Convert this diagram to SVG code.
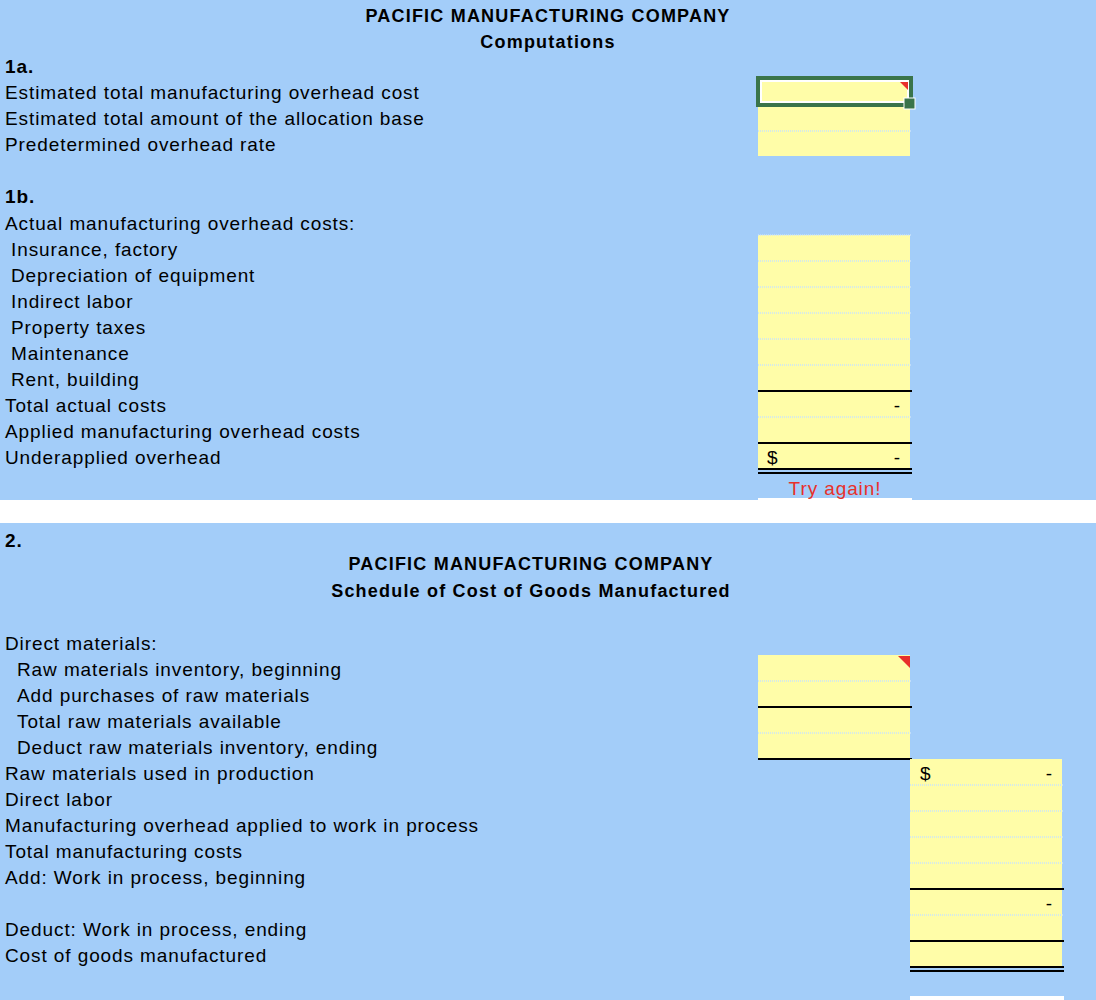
<svg xmlns="http://www.w3.org/2000/svg" width="1096" height="1000" viewBox="0 0 1096 1000">
<style>
.t{font-family:"Liberation Sans",Arial,sans-serif;font-size:19px;letter-spacing:0.9px;fill:#000}
.b{font-family:"Liberation Sans",Arial,sans-serif;font-size:18px;letter-spacing:1.2px;font-weight:bold;fill:#000;text-anchor:middle}
.c{fill:#fffda8}
.d{stroke:#c9e2fb;stroke-width:1.5;stroke-dasharray:1 1}
.k{stroke:#000;stroke-width:2}
.r{fill:#e8302a}
</style>
<rect width="1096" height="1000" fill="#a3cdf9"/>
<rect x="0" y="500" width="1096" height="23" fill="#fff"/>
<rect x="758" y="498" width="154" height="3" fill="#fff"/>
<rect x="910" y="996" width="154" height="4" fill="#fff"/>
<g id="title1">
<text class="b" x="548" y="22">PACIFIC MANUFACTURING COMPANY</text>
<text class="b" x="548" y="48">Computations</text>
</g>
<g id="s1a" class="t">
<text x="5" y="73" font-weight="bold">1a.</text>
<text x="5" y="99">Estimated total manufacturing overhead cost</text>
<text x="5" y="125">Estimated total amount of the allocation base</text>
<text x="5" y="151">Predetermined overhead rate</text>
</g>
<g id="cells1a">
<rect class="c" x="758" y="78" width="152" height="78"/>
<line class="d" x1="758" y1="131" x2="912" y2="131"/>
<rect x="758" y="78" width="153" height="27" fill="none" stroke="#3a744a" stroke-width="4"/>
<rect x="761" y="81" width="147" height="21" fill="none" stroke="#fff" stroke-width="2"/>
<polygon class="r" points="900,82 908,82 908,90"/>
<rect x="904" y="98" width="11" height="11" fill="#3a744a" stroke="#fff" stroke-width="1"/>
</g>
<g id="s1b" class="t">
<text x="5" y="203" font-weight="bold">1b.</text>
<text x="5" y="230">Actual manufacturing overhead costs:</text>
<text x="11" y="256">Insurance, factory</text>
<text x="11" y="282">Depreciation of equipment</text>
<text x="11" y="308">Indirect labor</text>
<text x="11" y="334">Property taxes</text>
<text x="11" y="360">Maintenance</text>
<text x="11" y="386">Rent, building</text>
<text x="5" y="412">Total actual costs</text>
<text x="5" y="438">Applied manufacturing overhead costs</text>
<text x="5" y="464">Underapplied overhead</text>
</g>
<g id="cells1b">
<rect class="c" x="758" y="235" width="152" height="234"/>
<line class="d" x1="758" y1="235" x2="912" y2="235"/>
<line class="d" x1="758" y1="261" x2="912" y2="261"/>
<line class="d" x1="758" y1="287" x2="912" y2="287"/>
<line class="d" x1="758" y1="313" x2="912" y2="313"/>
<line class="d" x1="758" y1="339" x2="912" y2="339"/>
<line class="d" x1="758" y1="365" x2="912" y2="365"/>
<line class="d" x1="758" y1="417" x2="912" y2="417"/>
<line class="k" x1="758" y1="391" x2="912" y2="391"/>
<line class="k" x1="758" y1="443" x2="912" y2="443"/>
<line class="k" x1="758" y1="469" x2="912" y2="469"/>
<line class="k" x1="758" y1="473" x2="912" y2="473"/>
<text class="t" x="901" y="412" text-anchor="end">-</text>
<text class="t" x="901" y="464" text-anchor="end">-</text>
<text class="t" x="767" y="464">$</text>
<text class="t" x="835" y="495" text-anchor="middle" fill="#e8302a" style="fill:#e8302a">Try again!</text>
</g>
<g id="title2">
<text class="t" x="5" y="547" font-weight="bold">2.</text>
<text class="b" x="531" y="570">PACIFIC MANUFACTURING COMPANY</text>
<text class="b" x="531" y="597">Schedule of Cost of Goods Manufactured</text>
</g>
<g id="s2" class="t">
<text x="5" y="650">Direct materials:</text>
<text x="17" y="676">Raw materials inventory, beginning</text>
<text x="17" y="702">Add purchases of raw materials</text>
<text x="17" y="728">Total raw materials available</text>
<text x="17" y="754">Deduct raw materials inventory, ending</text>
<text x="5" y="780">Raw materials used in production</text>
<text x="5" y="806">Direct labor</text>
<text x="5" y="832">Manufacturing overhead applied to work in process</text>
<text x="5" y="858">Total manufacturing costs</text>
<text x="5" y="884">Add: Work in process, beginning</text>
<text x="5" y="936">Deduct: Work in process, ending</text>
<text x="5" y="962">Cost of goods manufactured</text>
</g>
<g id="cells2">
<rect class="c" x="758" y="655" width="152" height="104"/>
<line class="d" x1="758" y1="681" x2="912" y2="681"/>
<line class="d" x1="758" y1="733" x2="912" y2="733"/>
<line class="k" x1="758" y1="707" x2="912" y2="707"/>
<line class="k" x1="758" y1="759" x2="912" y2="759"/>
<polygon class="r" points="898,656 910,656 910,668"/>
<rect class="c" x="910" y="759" width="152" height="208"/>
<line class="d" x1="910" y1="785" x2="1064" y2="785"/>
<line class="d" x1="910" y1="811" x2="1064" y2="811"/>
<line class="d" x1="910" y1="837" x2="1064" y2="837"/>
<line class="d" x1="910" y1="863" x2="1064" y2="863"/>
<line class="d" x1="910" y1="915" x2="1064" y2="915"/>
<line class="k" x1="910" y1="889" x2="1064" y2="889"/>
<line class="k" x1="910" y1="941" x2="1064" y2="941"/>
<line class="k" x1="910" y1="967" x2="1064" y2="967"/>
<line class="k" x1="910" y1="971" x2="1064" y2="971"/>
<text class="t" x="920" y="780">$</text>
<text class="t" x="1053" y="780" text-anchor="end">-</text>
<text class="t" x="1053" y="910" text-anchor="end">-</text>
</g>
</svg>
